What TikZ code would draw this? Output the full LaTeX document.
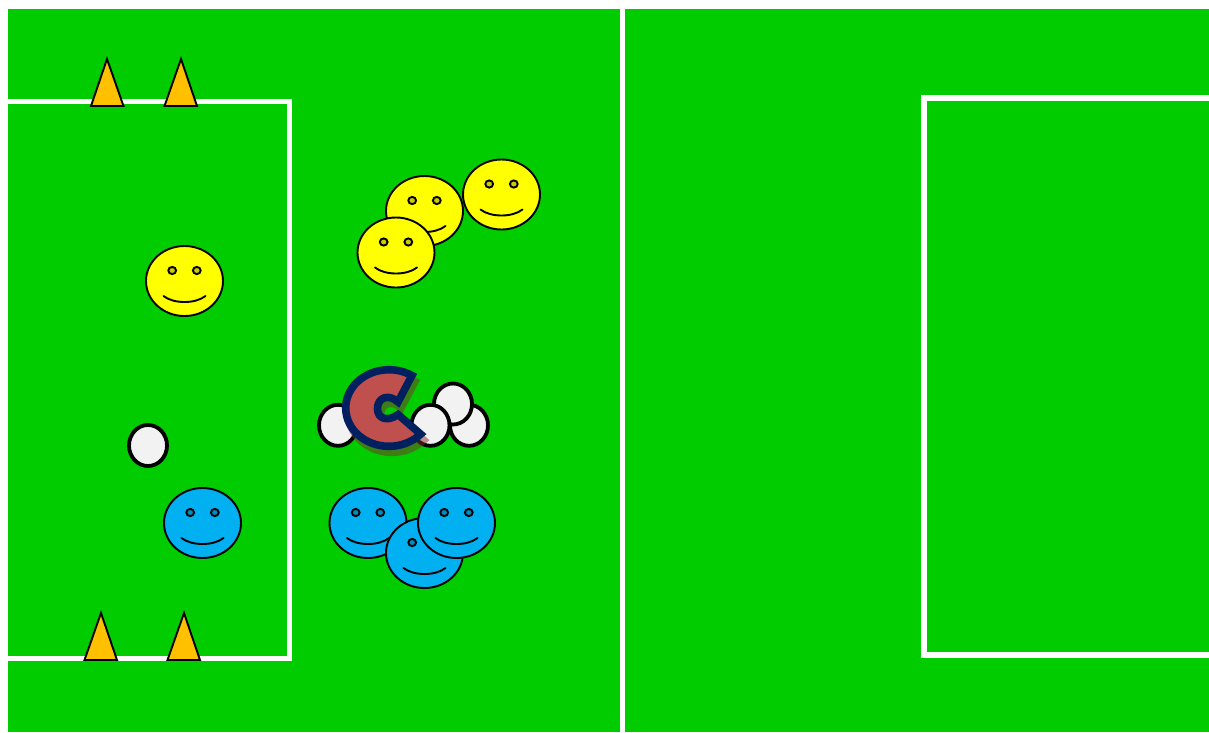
\documentclass[tikz,border=0pt]{standalone}
\definecolor{pitch}{HTML}{00CC00}
\definecolor{cone}{HTML}{FFC000}
\definecolor{smy}{HTML}{FFFF00}
\definecolor{smb}{HTML}{00B0F0}
\definecolor{ballc}{HTML}{F2F2F2}
\definecolor{navy}{HTML}{002060}
\definecolor{pacc}{HTML}{C0504D}
\definecolor{pacshadow}{HTML}{7D2D2D}
\tikzset{
  pitchline/.style={draw=white,line width=5.4pt},
  conestyle/.style={draw=black,fill=cone,line width=1.9pt,line join=miter},
  ballstyle/.style={draw=black,fill=ballc,line width=3.8pt},
  pacpath/.style={line join=miter,miter limit=10,line width=7.6pt},
  pics/smiley/.style={code={
    \draw[fill=#1,line width=1.9pt] (0,0) ellipse[x radius=38.5,y radius=35];
    \draw[fill=#1!80!black,line width=1.9pt] (-12.3,-10.5) ellipse[x radius=3.9,y radius=3.6];
    \draw[fill=#1!80!black,line width=1.9pt] (12.3,-10.5) ellipse[x radius=3.9,y radius=3.6];
    \draw[line width=1.9pt,line cap=round] (-21,15) .. controls (-11,23) and (11,23) .. (21,15);
  }}
}
\begin{document}
\begin{tikzpicture}[x=1pt,y=-1pt]
\useasboundingbox (0,0) rectangle (1209,732);
\fill[white] (0,0) rectangle (1209,732);
\fill[pitch] (8,9) rectangle (1209,732);
\draw[pitchline] (622.5,9) -- (622.5,732);
\draw[pitchline] (8,101.5) -- (289.5,101.5) -- (289.5,658.3) -- (8,658.3);
\draw[pitchline] (1209,98) -- (924,98) -- (924,655) -- (1209,655);
\draw[conestyle] (107,59) -- (123.5,106) -- (91,106) -- cycle;
\draw[conestyle] (181,59) -- (197,106) -- (164.5,106) -- cycle;
\draw[conestyle] (101,613) -- (117,660) -- (84.5,660) -- cycle;
\draw[conestyle] (184,613) -- (200,660) -- (167.5,660) -- cycle;
\pic at (424.5,211) {smiley=smy};
\pic at (501.5,194.5) {smiley=smy};
\pic at (396,252.5) {smiley=smy};
\pic at (184.5,281) {smiley=smy};
\pic at (202.5,523) {smiley=smb};
\pic at (368,523) {smiley=smb};
\pic at (424.5,553) {smiley=smb};
\pic at (456.5,523) {smiley=smb};
\draw[ballstyle] (148,445.5) ellipse[x radius=19,y radius=20.5];
\draw[ballstyle] (338,425.3) ellipse[x radius=19,y radius=20.5];
\draw[ballstyle] (469,425.3) ellipse[x radius=19,y radius=20.5];
\draw[ballstyle] (453,404) ellipse[x radius=19,y radius=20.5];
\draw[ballstyle] (430.5,425.3) ellipse[x radius=19,y radius=20.5];
\begin{scope}[shift={(3,6)},transparency group,opacity=.5]
\draw[pacshadow,fill=pacshadow,pacpath]
 (389,408) ++(-58:43.3 and 38.3) arc[start angle=-58,end angle=-317,x radius=43.3,y radius=38.3]
 -- (398,414.5) .. controls (388,422) and (377.5,419) .. (377.5,408.5) .. controls (377.5,398) and (388,393) .. (398,402) -- cycle;
\end{scope}
\draw[navy,fill=pacc,pacpath]
 (389,408) ++(-58:43.3 and 38.3) arc[start angle=-58,end angle=-317,x radius=43.3,y radius=38.3]
 -- (398,414.5) .. controls (388,422) and (377.5,419) .. (377.5,408.5) .. controls (377.5,398) and (388,393) .. (398,402) -- cycle;
\end{tikzpicture}
\end{document}
